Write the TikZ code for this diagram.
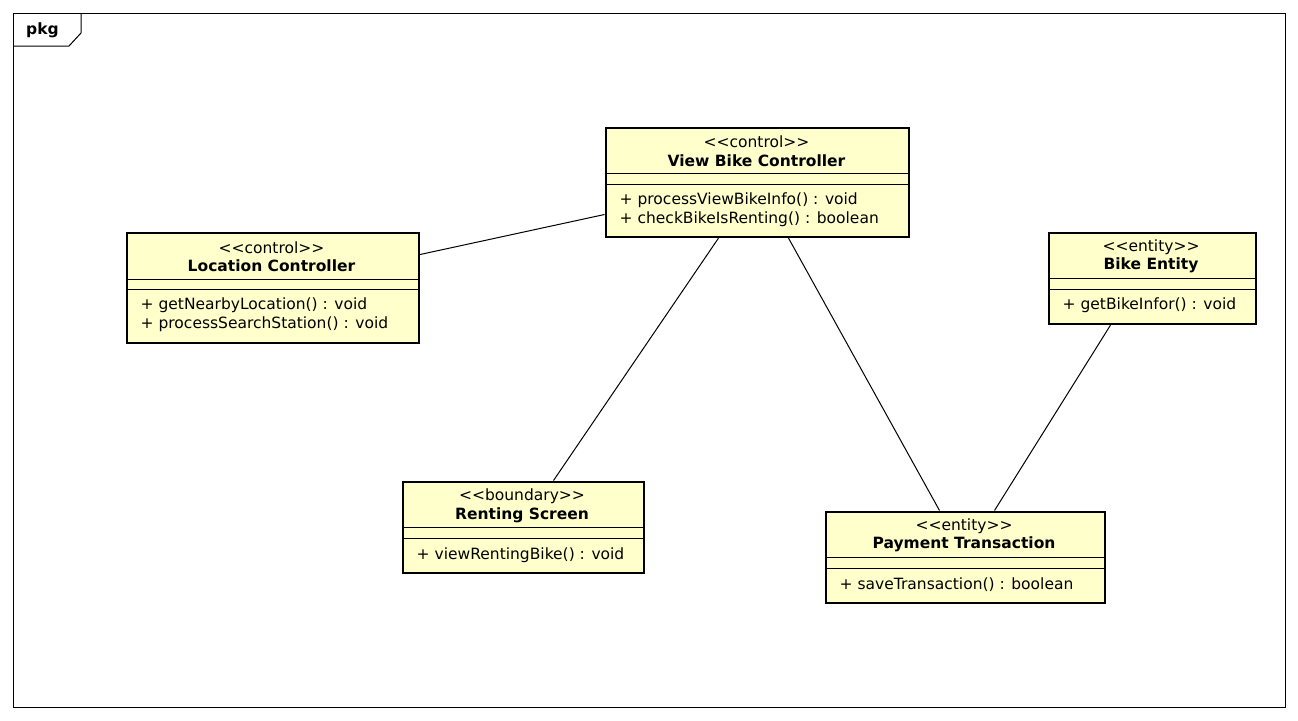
\documentclass[tikz,border=0pt]{standalone}
\usepackage{fontspec}
\setmainfont[Ligatures=NoCommon]{DejaVu Sans}
\usetikzlibrary{calc}
\definecolor{clsfill}{RGB}{255,255,204}
\newcommand\stereo[1]{{<}{<}#1{>}{>}}
\begin{document}
\begin{tikzpicture}[x=1pt,y=-1pt,
  cls/.style={draw=black,line width=2.6pt,fill=clsfill,anchor=north west,inner sep=0pt},
  sepline/.style={line width=0.9pt},
  txt/.style={font=\fontsize{15.5}{17}\selectfont,inner sep=0pt},
  boldtxt/.style={font=\fontsize{15.5}{17}\selectfont\bfseries,inner sep=0pt},
  assoc/.style={line width=1pt}]
\useasboundingbox (0,0) rectangle (1298,720);
\fill[white] (0,0) rectangle (1298,720);
% frame
\node[draw,line width=1pt,minimum width=1272pt,minimum height=694pt,anchor=north west,inner sep=0pt] (frame) at (13,13) {};
\draw[line width=1pt] (frame.north west) ++(0,33) -- ++(56,0) -- ++(12,-13) -- ++(0,-20);
\node[boldtxt,anchor=west] (pkgl) at (26,30) {pkg};

% View Bike Controller
\node[cls,minimum width=303pt,minimum height=109pt] (vbc) at (604.5,126.5) {};
\node[txt] (vbcs) at ($(vbc.north west)+(152,15)$) {\stereo{control}};
\node[boldtxt] (vbcn) at ($(vbc.north west)+(152,34)$) {View Bike Controller};
\draw[sepline] ($(vbc.north west)+(0,47)$) -- ($(vbc.north east)+(0,47)$);
\draw[sepline] ($(vbc.north west)+(0,58)$) -- ($(vbc.north east)+(0,58)$);
\node[txt,anchor=west] (vbcm1) at ($(vbc.north west)+(15,74)$) {+ processViewBikeInfo() : void};
\node[txt,anchor=west] (vbcm2) at ($(vbc.north west)+(15,93)$) {+ checkBikeIsRenting() : boolean};

% Location Controller
\node[cls,minimum width=292pt,minimum height=110pt] (lc) at (125.5,231.5) {};
\node[txt] (lcs) at ($(lc.north west)+(146,16)$) {\stereo{control}};
\node[boldtxt] (lcn) at ($(lc.north west)+(146,34)$) {Location Controller};
\draw[sepline] ($(lc.north west)+(0,48)$) -- ($(lc.north east)+(0,48)$);
\draw[sepline] ($(lc.north west)+(0,58)$) -- ($(lc.north east)+(0,58)$);
\node[txt,anchor=west] (lcm1) at ($(lc.north west)+(15,74)$) {+ getNearbyLocation() : void};
\node[txt,anchor=west] (lcm2) at ($(lc.north west)+(15,93)$) {+ processSearchStation() : void};

% Bike Entity
\node[cls,minimum width=207pt,minimum height=91pt] (be) at (1047.5,231.5) {};
\node[txt] (bes) at ($(be.north west)+(103.5,16)$) {\stereo{entity}};
\node[boldtxt] (ben) at ($(be.north west)+(103.5,34)$) {Bike Entity};
\draw[sepline] ($(be.north west)+(0,47)$) -- ($(be.north east)+(0,47)$);
\draw[sepline] ($(be.north west)+(0,58)$) -- ($(be.north east)+(0,58)$);
\node[txt,anchor=west] (bem1) at ($(be.north west)+(15,74)$) {+ getBikeInfor() : void};

% Renting Screen
\node[cls,minimum width=241pt,minimum height=91pt] (rs) at (401.5,480.5) {};
\node[txt] (rss) at ($(rs.north west)+(120.5,16)$) {\stereo{boundary}};
\node[boldtxt] (rsn) at ($(rs.north west)+(120.5,35)$) {Renting Screen};
\draw[sepline] ($(rs.north west)+(0,47)$) -- ($(rs.north east)+(0,47)$);
\draw[sepline] ($(rs.north west)+(0,58)$) -- ($(rs.north east)+(0,58)$);
\node[txt,anchor=west] (rsm1) at ($(rs.north west)+(15,75)$) {+ viewRentingBike() : void};

% Payment Transaction
\node[cls,minimum width=279pt,minimum height=91pt] (pt) at (824.5,510.5) {};
\node[txt] (pts) at ($(pt.north west)+(139.5,16)$) {\stereo{entity}};
\node[boldtxt] (ptn) at ($(pt.north west)+(139.5,34)$) {Payment Transaction};
\draw[sepline] ($(pt.north west)+(0,47)$) -- ($(pt.north east)+(0,47)$);
\draw[sepline] ($(pt.north west)+(0,58)$) -- ($(pt.north east)+(0,58)$);
\node[txt,anchor=west] (ptm1) at ($(pt.north west)+(15,74)$) {+ saveTransaction() : boolean};

% associations
\draw[assoc] ($(vbc.north west)+(0,88)$) -- ($(lc.north east)+(0,23)$);
\draw[assoc] ($(vbc.south west)+(114,0)$) -- ($(rs.north west)+(152,0)$);
\draw[assoc] ($(vbc.south west)+(184,0)$) -- ($(pt.north west)+(115,0)$);
\draw[assoc] ($(be.south west)+(63,0)$) -- ($(pt.north west)+(170,0)$);
\end{tikzpicture}
\end{document}
